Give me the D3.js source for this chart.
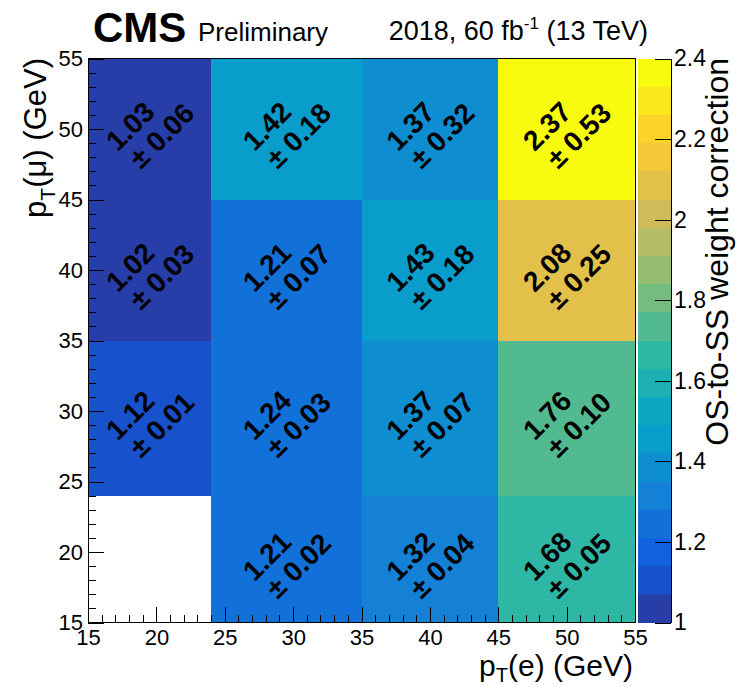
<!DOCTYPE html>
<html>
<head>
<meta charset="utf-8">
<script src="https://cdn.jsdelivr.net/npm/d3@7"></script>
<style>
  body { margin: 0; background: #fff; }
  text { font-family: "Liberation Sans", Arial, Helvetica, sans-serif; }
</style>
</head>
<body>
<div id="graph"></div>
<script>
// bin edges of the 2D histogram
var xEdges = [15, 24, 35, 45, 55];
var yEdges = [15, 24, 35, 45, 55];

// OS-to-SS weight correction, rows from bottom (pT(mu) bin) to top
var weights = [
  [null, 1.21, 1.32, 1.68],
  [1.12, 1.24, 1.37, 1.76],
  [1.02, 1.21, 1.43, 2.08],
  [1.03, 1.42, 1.37, 2.37]
];
var errors = [
  [null, 0.02, 0.04, 0.05],
  [0.01, 0.03, 0.07, 0.10],
  [0.03, 0.07, 0.18, 0.25],
  [0.06, 0.18, 0.32, 0.53]
];

var xTicks = [15, 20, 25, 30, 35, 40, 45, 50, 55];
var yTicks = [15, 20, 25, 30, 35, 40, 45, 50, 55];
var zTicks = [1, 1.2, 1.4, 1.6, 1.8, 2, 2.2, 2.4];
var zRange = [1, 2.4];
var nContours = 20;

// ROOT kBird palette
var birdStops = [0.0, 0.125, 0.25, 0.375, 0.5, 0.625, 0.75, 0.875, 1.0];
var birdR = [0.2082, 0.0592, 0.0780, 0.0232, 0.1802, 0.5301, 0.8186, 0.9956, 0.9764];
var birdG = [0.1664, 0.3599, 0.5041, 0.6419, 0.7178, 0.7492, 0.7328, 0.7862, 0.9832];
var birdB = [0.5293, 0.8684, 0.8385, 0.7914, 0.6425, 0.4662, 0.3499, 0.1968, 0.0539];

function setup() {
  var W = 740, H = 687;
  var x0 = 88, x1 = 635, y0 = 58.5, y1 = 622.5;
  var cbx0 = 638, cbx1 = 671;

  var bird = d3.scaleLinear()
    .domain(birdStops)
    .range(birdStops.map((s, i) => d3.rgb(birdR[i] * 255, birdG[i] * 255, birdB[i] * 255)))
    .interpolate(d3.interpolateRgb);

  var bandColor = function(i) {
    var idx = Math.floor((i + 0.99) * 255 / nContours);
    return bird(idx / 254);
  }
  var bandOf = function(v) {
    var b = Math.floor((v - zRange[0]) / ((zRange[1] - zRange[0]) / nContours));
    return Math.max(0, Math.min(nContours - 1, b));
  }

  var x = d3.scaleLinear().domain([xTicks[0], xTicks[xTicks.length - 1]]).range([x0, x1]);
  var y = d3.scaleLinear().domain([yTicks[0], yTicks[yTicks.length - 1]]).range([y1, y0]);
  var z = d3.scaleLinear().domain(zRange).range([y1, y0]);

  var svg = d3.select("#graph").append("svg")
    .attr("width", W).attr("height", H);

  // cells
  var cells = [];
  weights.forEach((row, r) => row.forEach((v, c) => {
    if (v !== null) cells.push({r: r, c: c, v: v, e: errors[r][c]});
  }));

  svg.append("g").selectAll("rect")
    .data(cells).enter().append("rect")
    .attr("x", d => x(xEdges[d.c]))
    .attr("y", d => y(yEdges[d.r + 1]))
    .attr("width", d => x(xEdges[d.c + 1]) - x(xEdges[d.c]))
    .attr("height", d => y(yEdges[d.r]) - y(yEdges[d.r + 1]))
    .attr("fill", d => bandColor(bandOf(d.v)))
    .attr("shape-rendering", "crispEdges");

  // frame
  svg.append("rect")
    .attr("x", x0).attr("y", y0).attr("width", x1 - x0).attr("height", y1 - y0)
    .attr("fill", "none").attr("stroke", "#000").attr("stroke-width", 1)
    .attr("shape-rendering", "crispEdges");

  // axes: major and minor ticks, pointing inward
  var minorX = d3.range(xTicks[0], xTicks[xTicks.length - 1] + 1, 1).filter(t => xTicks.indexOf(t) < 0);
  var minorY = d3.range(yTicks[0], yTicks[yTicks.length - 1] + 1, 1).filter(t => yTicks.indexOf(t) < 0);

  svg.append("g").attr("transform", `translate(0,${y1})`)
    .call(d3.axisBottom(x).tickValues(xTicks).tickSizeInner(-16).tickSizeOuter(0).tickPadding(7).tickFormat(d3.format("d")));
  svg.append("g").attr("transform", `translate(0,${y1})`)
    .call(d3.axisBottom(x).tickValues(minorX).tickSizeInner(-8).tickSizeOuter(0).tickFormat(""));
  svg.append("g").attr("transform", `translate(${x0},0)`)
    .call(d3.axisLeft(y).tickValues(yTicks).tickSizeInner(-16).tickSizeOuter(0).tickPadding(5).tickFormat(d3.format("d")));
  svg.append("g").attr("transform", `translate(${x0},0)`)
    .call(d3.axisLeft(y).tickValues(minorY).tickSizeInner(-8).tickSizeOuter(0).tickFormat(""));

  svg.selectAll(".domain").remove();
  svg.selectAll(".tick text")
    .style("font-size", "22px")
    .style("font-family", '"Liberation Sans", Arial, Helvetica, sans-serif')
    .attr("fill", "#000");
  svg.selectAll(".tick line").attr("stroke", "#000").attr("shape-rendering", "crispEdges");

  // cell labels, rotated 45 deg
  var lab = svg.append("g").selectAll("g")
    .data(cells).enter().append("g")
    .attr("transform", d => {
      var cx = (x(xEdges[d.c]) + x(xEdges[d.c + 1])) / 2;
      var cy = (y(yEdges[d.r]) + y(yEdges[d.r + 1])) / 2;
      return `translate(${cx},${cy}) rotate(-45)`;
    })
    .style("font-size", "28px")
    .style("font-weight", "bold");
  lab.append("text").attr("x", -39).attr("y", -6).text(d => d.v.toFixed(2));
  lab.append("text").attr("x", -35).attr("y", 23).text(d => "\u00b1 " + d.e.toFixed(2));

  // colour bar
  var bands = d3.range(nContours);
  var bw = (zRange[1] - zRange[0]) / nContours;
  svg.append("g").selectAll("rect")
    .data(bands).enter().append("rect")
    .attr("x", cbx0)
    .attr("y", i => z(zRange[0] + (i + 1) * bw))
    .attr("width", cbx1 - cbx0)
    .attr("height", i => z(zRange[0] + i * bw) - z(zRange[0] + (i + 1) * bw))
    .attr("fill", i => bandColor(i))
    .attr("shape-rendering", "crispEdges");

  var zAxis = svg.append("g").attr("transform", `translate(${cbx1},0)`)
    .call(d3.axisRight(z).tickValues(zTicks).tickSizeInner(-16).tickSizeOuter(0).tickPadding(3).tickFormat(d3.format("~g")));
  zAxis.select(".domain").remove();
  zAxis.append("line").attr("x1", 0).attr("x2", 0).attr("y1", y0).attr("y2", y1)
    .attr("stroke", "#000").attr("shape-rendering", "crispEdges");
  zAxis.selectAll(".tick text")
    .style("font-size", "23px")
    .style("font-family", '"Liberation Sans", Arial, Helvetica, sans-serif')
    .attr("fill", "#000");
  zAxis.selectAll(".tick line").attr("stroke", "#000").attr("shape-rendering", "crispEdges");

  // axis titles
  var xt = svg.append("text")
    .attr("x", 633).attr("y", 676)
    .attr("text-anchor", "end")
    .style("font-size", "30px");
  xt.append("tspan").text("p");
  xt.append("tspan").attr("dy", 6).style("font-size", "20px").text("T");
  xt.append("tspan").attr("dy", -6).text("(e) (GeV)");

  var yt = svg.append("text")
    .attr("transform", "translate(46,58) rotate(-90)")
    .attr("text-anchor", "end")
    .style("font-size", "31px");
  yt.append("tspan").text("p");
  yt.append("tspan").attr("dy", 9).style("font-size", "21px").text("T");
  yt.append("tspan").attr("dy", -9).text("(\u03bc) (GeV)");

  svg.append("text")
    .attr("transform", "translate(728,58) rotate(-90)")
    .attr("text-anchor", "end")
    .style("font-size", "32px")
    .text("OS-to-SS weight correction");

  // header
  svg.append("text").attr("x", 93).attr("y", 42)
    .style("font-size", "42px").style("font-weight", "bold").text("CMS");
  svg.append("text").attr("x", 198).attr("y", 41)
    .style("font-size", "26px").text("Preliminary");
  var lumi = svg.append("text").attr("x", 648).attr("y", 40)
    .attr("text-anchor", "end")
    .style("font-size", "27px");
  lumi.append("tspan").text("2018, 60 fb");
  lumi.append("tspan").attr("dy", -11).style("font-size", "17px").text("-1");
  lumi.append("tspan").attr("dy", 11).text(" (13 TeV)");
}

window.addEventListener('load', setup)
</script>
</body>
</html>
